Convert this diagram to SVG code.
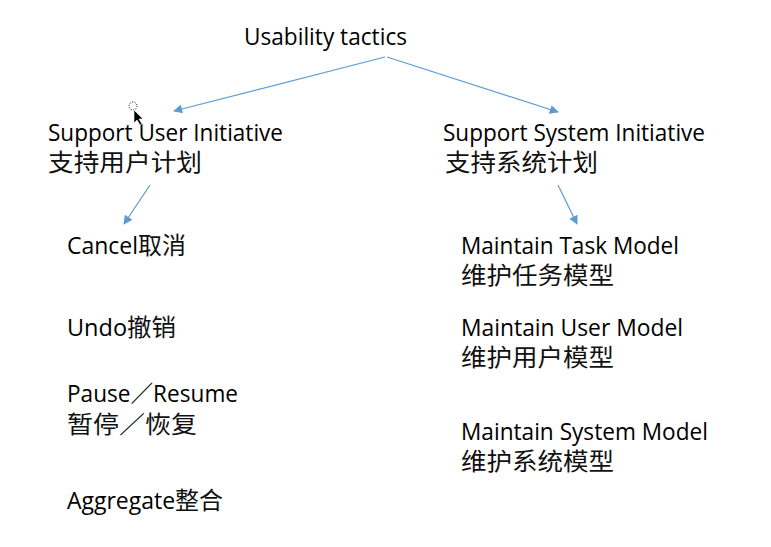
<svg xmlns="http://www.w3.org/2000/svg" width="771" height="547" viewBox="0 0 771 547">
<style>
text{font-family:"Open Sans","Noto Sans CJK SC",sans-serif;font-size:23px;fill:#000}
.cn{font-family:"Noto Sans CJK SC",sans-serif;font-size:24px;fill:#111}
.c{stroke:#5B9BD5;stroke-width:1.2;fill:none;marker-end:url(#ah)}
</style>
<defs>
<marker id="ah" viewBox="0 0 10 10" refX="9" refY="5" markerWidth="10" markerHeight="9" markerUnits="userSpaceOnUse" orient="auto">
<path d="M0,0L10,5L0,10z" fill="#5B9BD5"/>
</marker>
</defs>
<rect width="771" height="547" fill="#fff"/>
<g id="connectors">
<path class="c" d="M385,57L174,111"/>
<path class="c" d="M387,57L558,112"/>
<path class="c" d="M150,185L124,224"/>
<path class="c" d="M558,185L577,224"/>
</g>
<g id="root"><text x="244" y="45" textLength="163" lengthAdjust="spacingAndGlyphs">Usability tactics</text></g>
<g id="user-initiative">
<text x="48" y="141" textLength="235" lengthAdjust="spacingAndGlyphs">Support User Initiative</text>
<text class="cn" x="48" y="171" textLength="154" lengthAdjust="spacingAndGlyphs">支持用户计划</text>
</g>
<g id="system-initiative">
<text x="443" y="141" textLength="262" lengthAdjust="spacingAndGlyphs">Support System Initiative</text>
<text class="cn" x="445" y="171" textLength="153" lengthAdjust="spacingAndGlyphs">支持系统计划</text>
</g>
<g id="cancel"><text x="67" y="254" textLength="119" lengthAdjust="spacingAndGlyphs">Cancel<tspan class="cn">取消</tspan></text></g>
<g id="undo"><text x="67" y="336" textLength="109" lengthAdjust="spacingAndGlyphs">Undo<tspan class="cn">撤销</tspan></text></g>
<g id="pause">
<text x="67" y="402" textLength="171" lengthAdjust="spacingAndGlyphs">Pause／Resume</text>
<text class="cn" x="67" y="433" textLength="130" lengthAdjust="spacingAndGlyphs">暂停／恢复</text>
</g>
<g id="aggregate"><text x="67" y="509" textLength="156" lengthAdjust="spacingAndGlyphs">Aggregate<tspan class="cn">整合</tspan></text></g>
<g id="task-model">
<text x="461" y="254" textLength="218" lengthAdjust="spacingAndGlyphs">Maintain Task Model</text>
<text class="cn" x="461" y="284" textLength="153" lengthAdjust="spacingAndGlyphs">维护任务模型</text>
</g>
<g id="user-model">
<text x="461" y="336" textLength="222" lengthAdjust="spacingAndGlyphs">Maintain User Model</text>
<text class="cn" x="461" y="366" textLength="153" lengthAdjust="spacingAndGlyphs">维护用户模型</text>
</g>
<g id="system-model">
<text x="461" y="440" textLength="247" lengthAdjust="spacingAndGlyphs">Maintain System Model</text>
<text class="cn" x="461" y="470" textLength="153" lengthAdjust="spacingAndGlyphs">维护系统模型</text>
</g>
<g id="cursor">
<circle cx="133" cy="106" r="4" fill="none" stroke="#000" stroke-width="1" stroke-dasharray="1 1.5"/>
<path d="M134,110L134,123L137,120L140,125L142,124L139,119L143,119z" fill="#000" stroke="#fff" stroke-width="0.6"/>
</g>
</svg>
